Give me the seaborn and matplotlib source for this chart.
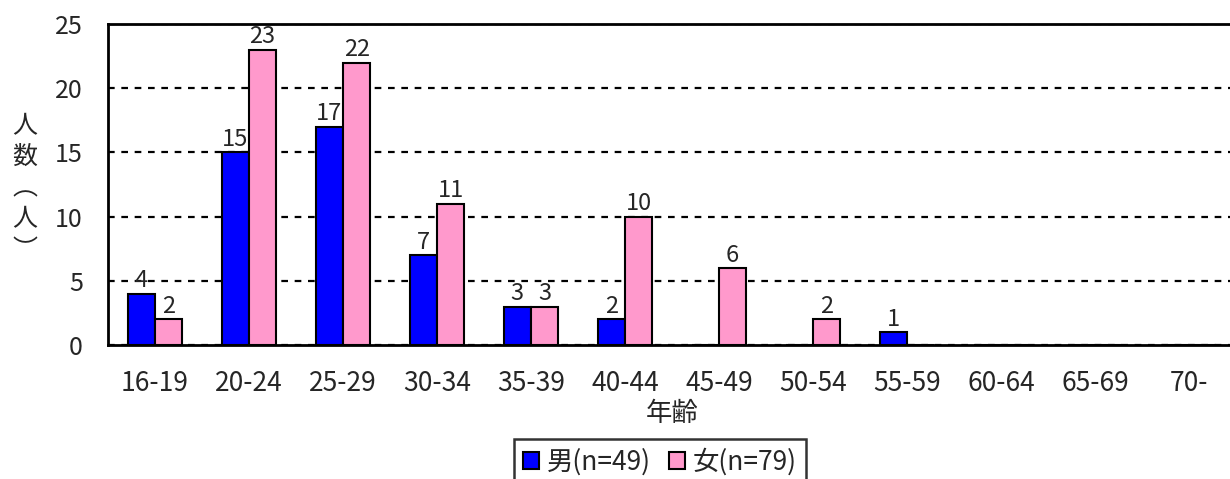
import numpy as np
import pandas as pd
import seaborn as sns
from matplotlib import pyplot as plt

# データ
age_groups = ["16-19", "20-24", "25-29", "30-34", "35-39", "40-44",
              "45-49", "50-54", "55-59", "60-64", "65-69", "70-"]
male = [4, 15, 17, 7, 3, 2, 0, 0, 1, 0, 0, 0]
female = [2, 23, 22, 11, 3, 10, 6, 2, 0, 0, 0, 0]
series_names = ["男(n=49)", "女(n=79)"]
colors = ["#0000FF", "#FF99CC"]

df = pd.DataFrame({
    "年齢": age_groups * 2,
    "人数": male + female,
    "性別": [series_names[0]] * len(age_groups) + [series_names[1]] * len(age_groups),
})

sns.set_style("white")
plt.rcParams['font.family'] = ['Noto Sans CJK JP', 'DejaVu Sans']

fig = plt.figure(figsize=(12.3, 4.79), dpi=100)
ax = fig.add_axes([0.0878, 0.2797, 1128 / 1230, 0.6701])

sns.barplot(data=df, x="年齢", y="人数", hue="性別", palette=colors, saturation=1,
            width=0.58, edgecolor="black", linewidth=1.5, ax=ax, legend=True)

# 棒の上に値を表示（0は表示しない）
for cont in ax.containers:
    labels = [("%d" % v) if v > 0 else "" for v in cont.datavalues]
    ax.bar_label(cont, labels=labels, fontsize=17, padding=1)

ax.set_xlim(-0.5, len(age_groups) - 0.5)
ax.set_ylim(0, 25)
ax.set_yticks([0, 5, 10, 15, 20, 25])
ax.yaxis.grid(True, color="black", linestyle=(0, (3, 3)), linewidth=1.6)
ax.set_axisbelow(True)

ax.set_xticks(np.arange(len(age_groups)))
ax.set_xticklabels(age_groups)
ax.set_xticks(np.arange(len(age_groups)) + 0.5, minor=True)
ax.tick_params(axis="x", which="major", length=0, labelsize=19, pad=18)
ax.tick_params(axis="x", which="minor", direction="in", length=6, width=1.5)
ax.tick_params(axis="y", length=0, labelsize=18, pad=18)

for s in ax.spines.values():
    s.set_color("black")
    s.set_linewidth(2)

ax.set_xlabel("年齢", fontsize=19, labelpad=2)
ax.set_ylabel("")
fig.text(0.020, 0.607, "人\n数\n︵\n人\n︶", fontsize=18, ha="center", va="center",
         linespacing=1.25)

leg = ax.legend(loc="upper center", bbox_to_anchor=(0.5366, 0.0835),
                bbox_transform=fig.transFigure, ncol=2,
                fontsize=19, frameon=True, fancybox=False, edgecolor="black",
                handlelength=0.6, handleheight=0.6, handletextpad=0.3,
                columnspacing=0.7, borderpad=0.35, borderaxespad=0)
leg.get_frame().set_linewidth(1.8)

plt.savefig("out.png", dpi=100)
